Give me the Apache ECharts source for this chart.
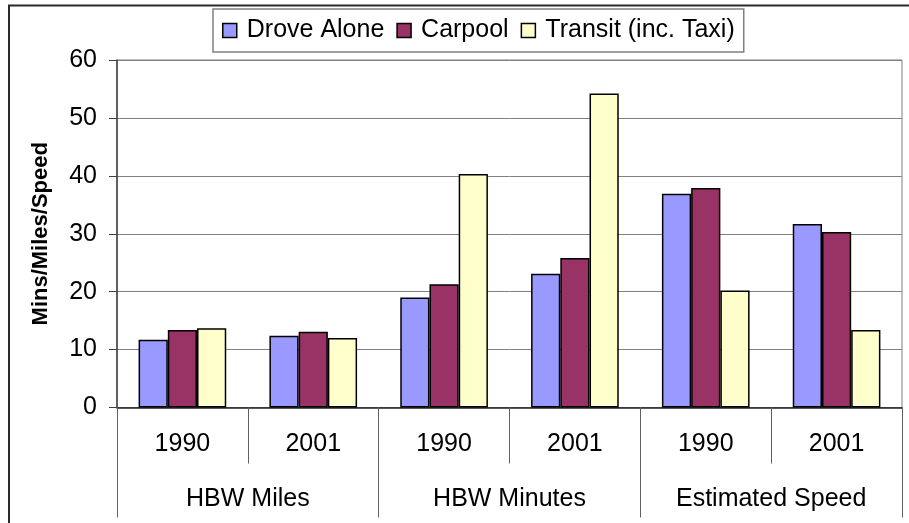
<!DOCTYPE html>
<html lang="en" style="height: 100%">
<head>
    <meta charset="UTF-8">
    <script src="https://cdn.jsdelivr.net/npm/echarts@6/dist/echarts.min.js"></script>
    <title>HBW trips</title>
</head>
<body style="height: 100%; margin: 0; background: #fff">
<div id="main" style="width: 909px; height: 523px"></div>
<script>
    // data
    var years = ['1990', '2001', '1990', '2001', '1990', '2001'];
    var groups = ['HBW Miles', 'HBW Minutes', 'Estimated Speed'];
    var droveAlone = [11.7, 12.4, 19.0, 23.1, 36.9, 31.7];
    var carpool = [13.4, 13.1, 21.3, 25.8, 37.9, 30.3];
    var transit = [13.7, 12.0, 40.3, 54.2, 20.2, 13.4];

    var font = "'Liberation Sans', Arial, sans-serif";
    var myChart = echarts.init(document.getElementById('main'));

    function bar(name, values, color) {
        return {
            name: name,
            type: 'bar',
            data: values,
            barGap: 0,
            barCategoryGap: '33%',
            itemStyle: {color: color, borderColor: '#000', borderWidth: 1.5},
            emphasis: {disabled: true}
        };
    }

    var option = {
        backgroundColor: '#fff',
        animation: false,
        graphic: [{
            type: 'rect',
            shape: {x: 9, y: 5.5, width: 1200, height: 1200},
            style: {fill: 'none', stroke: '#2a2a2a', lineWidth: 2},
            silent: true
        }],
        legend: {
            left: 213,
            top: 9,
            padding: [9, 9, 9, 9],
            itemGap: 12,
            itemWidth: 14,
            itemHeight: 14,
            icon: 'rect',
            borderColor: '#808080',
            borderWidth: 1.5,
            backgroundColor: '#fff',
            itemStyle: {borderColor: '#000', borderWidth: 1.5},
            textStyle: {fontFamily: font, fontSize: 25, color: '#000', padding: [0, 0, 0, 5]},
            data: ['Drove Alone', 'Carpool', 'Transit (inc. Taxi)']
        },
        grid: {
            left: 117,
            right: 7,
            top: 60,
            bottom: 115.5,
            show: true,
            borderColor: '#808080',
            borderWidth: 1,
            backgroundColor: 'transparent'
        },
        xAxis: [{
            type: 'category',
            data: years,
            position: 'bottom',
            axisLine: {lineStyle: {color: '#222', width: 1.5}},
            axisTick: {show: true, length: 56, interval: 0, lineStyle: {color: '#606060', width: 1}},
            axisLabel: {fontFamily: font, fontSize: 25, color: '#000', margin: 24, interval: 0}
        }, {
            type: 'category',
            data: groups,
            position: 'bottom',
            axisLine: {show: false},
            axisTick: {show: true, length: 110, interval: 0, lineStyle: {color: '#606060', width: 1}},
            axisLabel: {fontFamily: font, fontSize: 25, color: '#000', margin: 79, interval: 0}
        }],
        yAxis: {
            type: 'value',
            min: 0,
            max: 60,
            interval: 10,
            name: 'Mins/Miles/Speed',
            nameLocation: 'middle',
            nameRotate: 90,
            nameGap: 65,
            nameTextStyle: {fontFamily: font, fontSize: 22, fontWeight: 'bold', color: '#000'},
            axisLine: {show: true, lineStyle: {color: '#404040', width: 1.5}},
            axisTick: {show: true, length: 8, lineStyle: {color: '#404040'}},
            axisLabel: {fontFamily: font, fontSize: 25, color: '#000', margin: 20},
            splitLine: {lineStyle: {color: '#808080', width: 1}}
        },
        series: [
            bar('Drove Alone', droveAlone, '#9999FF'),
            bar('Carpool', carpool, '#993366'),
            bar('Transit (inc. Taxi)', transit, '#FFFFCC')
        ]
    };
    myChart.setOption(option);
</script>
</body>
</html>
